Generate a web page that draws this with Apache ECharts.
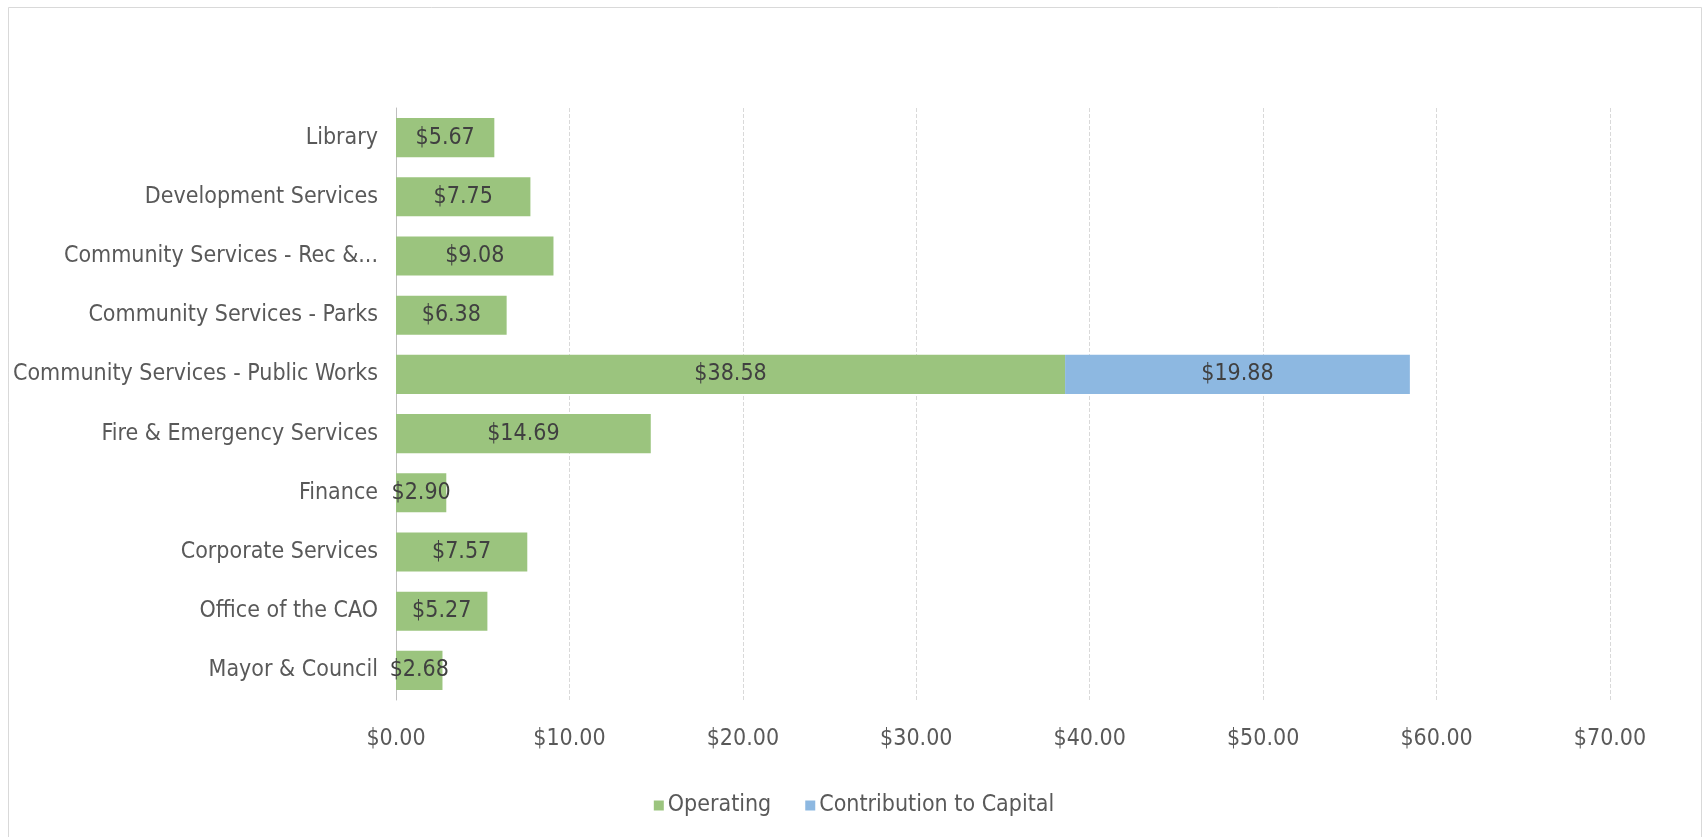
<!DOCTYPE html>
<html>
<head>
<meta charset="utf-8">
<script src="https://cdn.jsdelivr.net/npm/echarts@6/dist/echarts.min.js"></script>
<style>
html,body{margin:0;padding:0;background:#fff;}
#chart{width:1708px;height:837px;}
</style>
</head>
<body>
<div id="chart"></div>
<script>
const categories = [
  'Library',
  'Development Services',
  'Community Services - Rec &...',
  'Community Services - Parks',
  'Community Services - Public Works',
  'Fire & Emergency Services',
  'Finance',
  'Corporate Services',
  'Office of the CAO',
  'Mayor & Council'
];
const operating = [5.67, 7.75, 9.08, 6.38, 38.58, 14.69, 2.90, 7.57, 5.27, 2.68];
const capital = [null, null, null, null, 19.88, null, null, null, null, null];
const tickLabels = ['$0.00', '$10.00', '$20.00', '$30.00', '$40.00', '$50.00', '$60.00', '$70.00'];

const FONT = '"Liberation Sans Narrow", "Arial Narrow", "DejaVu Sans Condensed", sans-serif';
const FS = 23;
const chart = echarts.init(document.getElementById('chart'), null, {renderer: 'canvas'});
const money = v => '$' + Number(v).toFixed(2);

chart.setOption({
  animation: false,
  backgroundColor: '#ffffff',
  graphic: [{
    type: 'rect',
    shape: {x: 8.5, y: 7.5, width: 1693, height: 850},
    style: {fill: 'none', stroke: '#d9d9d9', lineWidth: 1},
    silent: true
  }],
  grid: {left: 396, right: 98, top: 108, bottom: 137, containLabel: false},
  legend: {
    bottom: 15,
    left: 'center',
    itemWidth: 10,
    itemHeight: 10,
    itemGap: 34,
    icon: 'rect',
    textStyle: {fontFamily: FONT, fontSize: FS, color: '#595959', padding: [0, 0, 0, -1]},
    data: ['Operating', 'Contribution to Capital']
  },
  xAxis: {
    type: 'value',
    min: 0,
    max: 70,
    interval: 10,
    axisLine: {show: false},
    axisTick: {show: false},
    splitLine: {show: true, lineStyle: {color: '#d9d9d9', width: 1, type: [4, 2]}},
    axisLabel: {
      fontFamily: FONT, fontSize: FS, color: '#595959', margin: 28,
      formatter: v => tickLabels[Math.round(v / 10)]
    }
  },
  yAxis: {
    type: 'category',
    data: categories,
    inverse: true,
    axisLine: {show: true, lineStyle: {color: '#bfbfbf', width: 1}},
    axisTick: {show: false},
    axisLabel: {fontFamily: FONT, fontSize: FS, color: '#595959', margin: 18}
  },
  series: [
    {
      name: 'Operating',
      type: 'bar',
      stack: 'total',
      data: operating,
      barCategoryGap: '34%',
      itemStyle: {color: '#9bc47e'},
      label: {
        show: true, position: 'inside', fontFamily: FONT, fontSize: FS, color: '#404040',
        formatter: p => money(p.value)
      }
    },
    {
      name: 'Contribution to Capital',
      type: 'bar',
      stack: 'total',
      data: capital,
      barCategoryGap: '34%',
      itemStyle: {color: '#8db8e1'},
      label: {
        show: true, position: 'inside', fontFamily: FONT, fontSize: FS, color: '#404040',
        formatter: p => (p.value == null ? '' : money(p.value))
      }
    }
  ]
});
</script>
</body>
</html>
